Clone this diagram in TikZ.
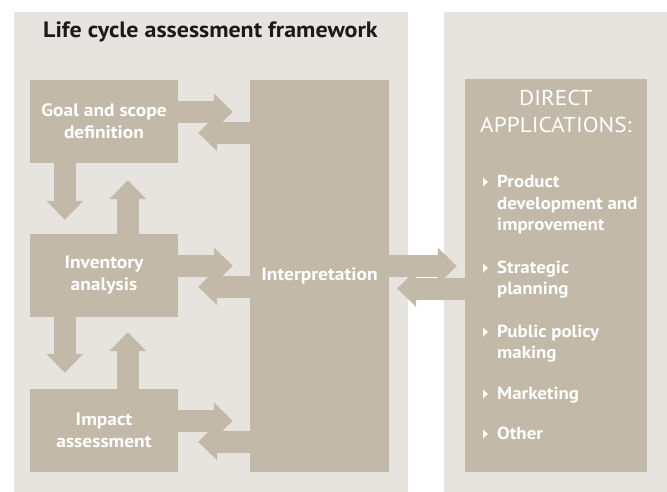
\documentclass[tikz,border=0pt]{standalone}
\usepackage{fontspec}
\setmainfont[FakeStretch=1.08]{PT Sans}
\usetikzlibrary{arrows.meta}

\definecolor{panelgray}{RGB}{231,228,223}
\definecolor{boxtan}{RGB}{195,185,168}
\definecolor{titleblack}{RGB}{26,26,26}

\tikzset{
  box/.style={fill=boxtan, text=white, align=center, inner sep=0pt,
    font=\bfseries\fontsize{18}{22}\selectfont},
  stagebox/.style={box, minimum width=148pt, minimum height=83pt},
  blk/.style={draw=boxtan, line width=22pt,
    -{Triangle[width=37pt,length=19pt,line width=0pt,fill=boxtan]}},
  item/.style={anchor=base west, text=white, inner sep=0pt,
    font=\bfseries\fontsize{17.5}{21}\selectfont},
}

\begin{document}
\begin{tikzpicture}[x=1pt,y=-1pt]
    \useasboundingbox (0,0) rectangle (667,492);
    % background panels
    \fill[panelgray] (14,12) rectangle (408,492);
    \fill[panelgray] (444,12) rectangle (667,492);

    \node[anchor=base west, inner sep=0pt, text=titleblack,
      font=\bfseries\fontsize{22.2}{26}\selectfont] (title) at (43,38)
      {Life cycle assessment framework};

    % the three stages and interpretation
    \node[stagebox] (goal) at (104,121.5) {Goal and scope\\definition};
    \node[stagebox] (inv) at (104,275.5) {Inventory\\analysis};
    \node[stagebox] (impact) at (104,430.5) {Impact\\assessment};
    \node[box, minimum width=139pt, minimum height=392pt] (interp) at (319.5,276) {Interpretation};

    % applications box
    \node[box, minimum width=182pt, minimum height=393pt] (direct) at (556,275.5) {};
    \node[anchor=base, align=center, inner sep=0pt, text=white,
      font=\fontsize{21.5}{27}\selectfont] (dhead) at (556,133) {DIRECT\\APPLICATIONS:};

    \foreach \y/\t in {187/Product, 209/development and, 230/improvement,
                       273/Strategic, 294/planning, 337/Public policy,
                       358/making, 399/Marketing, 439/Other}
      \node[item] (line-\y) at (497,\y) {\t};
    \foreach \y in {187,273,337,399,439}
      \fill[white] (483,\y-9.5) -- (488,\y-5) -- (483,\y-0.5) -- cycle;

    % arrows between stages and interpretation
    \foreach \b in {goal,inv,impact} {
      \draw[blk, shorten >=17pt] ([yshift=-32pt]\b.north east) -- ([yshift=-32pt]\b.north east -| interp.west);
      \draw[blk, shorten >=20pt] ([yshift=-53pt]\b.north east -| interp.west) -- ([yshift=-53pt]\b.north east);
    }
    \draw[blk, shorten >=14pt] ([xshift=35pt]goal.south west) -- ([xshift=35pt]goal.south west |- inv.north);
    \draw[blk, shorten >=17pt] ([xshift=98pt]inv.north west) -- ([xshift=98pt]inv.north west |- goal.south);
    \draw[blk, shorten >=16pt] ([xshift=35pt]inv.south west) -- ([xshift=35pt]inv.south west |- impact.north);
    \draw[blk, shorten >=15pt] ([xshift=98pt]impact.north west) -- ([xshift=98pt]impact.north west |- inv.south);

    % to and from the applications
    \draw[blk, shorten >=8pt] ([yshift=10pt]interp.east) -- ([yshift=10pt]interp.east -| direct.west);
    \draw[blk, shorten >=8pt] ([yshift=-13pt]direct.west) -- ([yshift=-13pt]direct.west -| interp.east);
\end{tikzpicture}
\end{document}
